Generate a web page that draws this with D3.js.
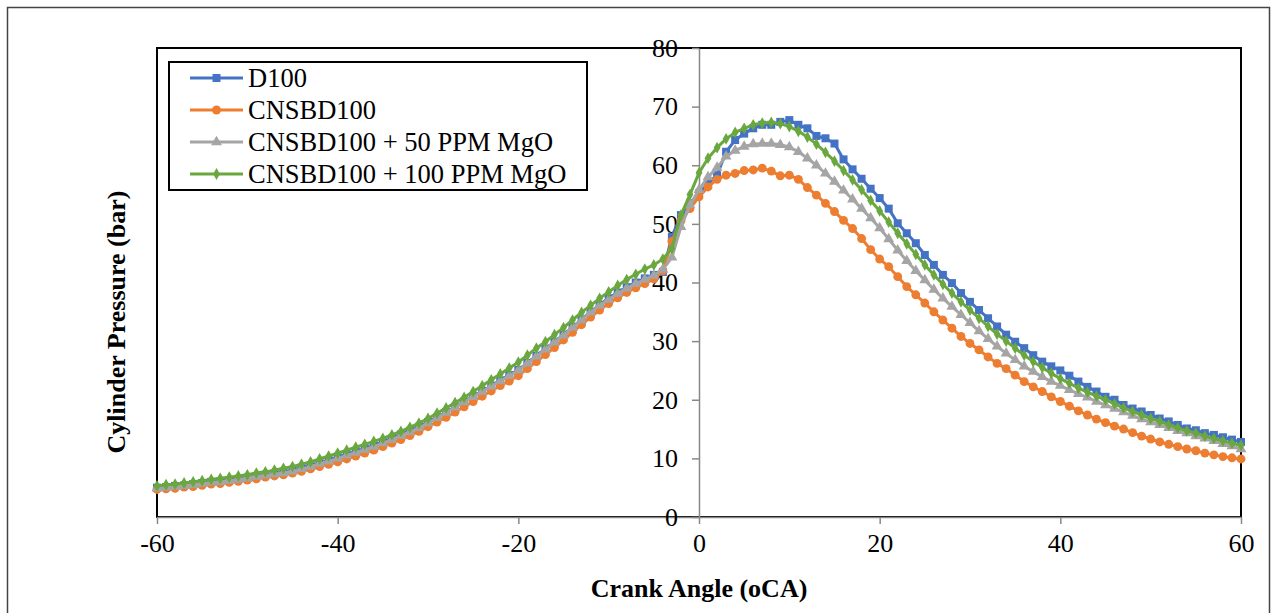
<!DOCTYPE html>
<html>
<head>
<meta charset="utf-8">
<script src="https://cdn.jsdelivr.net/npm/d3@7"></script>
<style>
  body { margin: 0; background: #fff; }
  svg text { font-family: "Liberation Serif", "Times New Roman", serif; fill: #000; }
</style>
</head>
<body>
<svg id="chart" width="1273" height="613"></svg>
<script>
// crank angle, one point per degree
const angles = d3.range(-60, 61);

const d100 = [
  5.0, 5.1, 5.3, 5.4, 5.6, 5.8, 6.0, 6.1, 6.3, 6.5,
  6.7, 7.0, 7.2, 7.4, 7.7, 8.0, 8.4, 8.8, 9.2, 9.7,
  10.2, 10.7, 11.2, 11.7, 12.2, 12.8, 13.4, 14.1, 14.7, 15.4,
  16.2, 17.0, 17.9, 18.8, 19.7, 20.6, 21.5, 22.4, 23.3, 24.2,
  25.1, 26.3, 27.5, 28.7, 29.9, 31.1, 32.4, 33.7, 35.0, 36.2,
  37.3, 38.3, 39.2, 40.0, 40.7, 41.3, 41.8, 47.8, 51.5, 53.5,
  55.2, 56.9, 58.3, 62.3, 64.3, 65.4, 66.3, 66.9, 66.9, 67.4,
  67.7, 66.9, 66.3, 65.0, 64.6, 63.7, 61.0, 59.3, 57.7, 56.0,
  54.4, 52.6, 50.1, 48.4, 46.7, 44.7, 43.0, 41.3, 39.9, 38.2,
  36.7, 35.3, 33.9, 32.5, 31.1, 29.9, 28.8, 27.6, 26.5, 25.7,
  25.0, 24.1, 23.1, 22.2, 21.4, 20.5, 20.0, 19.1, 18.5, 18.0,
  17.4, 16.8, 16.3, 15.7, 15.1, 14.8, 14.3, 14.0, 13.6, 13.2,
  12.8
];

const cnsbd100 = [
  4.7, 4.8, 4.9, 5.1, 5.2, 5.4, 5.6, 5.7, 5.9, 6.1,
  6.3, 6.5, 6.8, 7.0, 7.2, 7.5, 7.8, 8.2, 8.6, 9.0,
  9.4, 9.9, 10.4, 10.9, 11.4, 12.0, 12.6, 13.2, 13.9, 14.6,
  15.4, 16.2, 17.0, 17.9, 18.8, 19.7, 20.6, 21.5, 22.4, 23.2,
  24.1, 25.3, 26.5, 27.7, 28.9, 30.2, 31.5, 32.8, 34.1, 35.3,
  36.4, 37.4, 38.3, 39.1, 39.8, 40.6, 42.0, 47.0, 50.5, 52.6,
  54.6, 56.3, 57.6, 58.3, 58.6, 59.1, 59.2, 59.5, 59.0, 58.2,
  58.3, 57.6, 56.2, 54.9, 53.5, 52.1, 50.6, 49.2, 47.5, 45.6,
  44.0, 42.7, 41.0, 39.3, 37.9, 36.5, 35.0, 33.6, 32.2, 30.8,
  29.6, 28.5, 27.3, 26.2, 25.3, 24.2, 23.1, 22.2, 21.4, 20.5,
  19.7, 18.9, 18.1, 17.4, 16.7, 16.1, 15.5, 15.0, 14.4, 13.8,
  13.3, 12.8, 12.4, 12.0, 11.6, 11.3, 10.9, 10.6, 10.3, 10.1,
  9.9
];

const mgo50 = [
  4.9, 5.0, 5.2, 5.3, 5.5, 5.7, 5.9, 6.0, 6.2, 6.4,
  6.6, 6.9, 7.1, 7.3, 7.5, 7.8, 8.2, 8.6, 9.1, 9.5,
  10.0, 10.5, 11.0, 11.5, 12.0, 12.6, 13.2, 13.9, 14.5, 15.2,
  16.0, 16.9, 17.8, 18.7, 19.6, 20.5, 21.4, 22.3, 23.2, 24.1,
  25.0, 26.2, 27.4, 28.6, 29.8, 31.0, 32.3, 33.6, 34.9, 36.1,
  37.1, 38.1, 39.0, 39.8, 40.5, 41.2, 42.2, 44.3, 49.5, 53.2,
  55.8, 58.0, 59.6, 61.5, 62.5, 63.2, 63.6, 63.7, 63.7, 63.5,
  63.1, 62.3, 61.2, 60.0, 58.6, 57.2, 55.7, 54.2, 52.6, 51.0,
  49.3, 47.4, 45.5, 43.7, 42.0, 40.4, 38.8, 37.3, 35.9, 34.5,
  33.1, 31.7, 30.4, 29.1, 27.9, 26.8, 25.7, 24.8, 23.9, 23.1,
  22.4, 21.7, 21.0, 20.4, 19.7, 19.1, 18.5, 17.9, 17.3, 16.7,
  16.2, 15.7, 15.2, 14.7, 14.3, 13.8, 13.4, 13.0, 12.5, 12.1,
  11.6
];

const mgo100 = [
  5.3, 5.5, 5.6, 5.8, 6.0, 6.2, 6.4, 6.6, 6.8, 7.0,
  7.2, 7.5, 7.7, 8.0, 8.3, 8.6, 9.0, 9.4, 9.9, 10.4,
  10.9, 11.4, 11.9, 12.4, 12.9, 13.4, 14.0, 14.6, 15.3, 16.0,
  16.8, 17.7, 18.6, 19.5, 20.4, 21.4, 22.4, 23.4, 24.4, 25.4,
  26.4, 27.6, 28.8, 29.9, 31.1, 32.3, 33.6, 34.9, 36.1, 37.3,
  38.4, 39.5, 40.5, 41.4, 42.3, 43.0, 44.0, 45.8, 51.5, 55.0,
  58.7, 61.2, 63.0, 64.5, 65.6, 66.3, 66.9, 67.2, 67.3, 67.1,
  66.6, 65.8, 64.8, 63.6, 62.2, 60.7, 59.1, 57.5, 55.8, 54.0,
  52.2, 50.3, 48.4, 46.6, 44.8, 43.0, 41.3, 39.7, 38.2, 36.7,
  35.3, 33.9, 32.5, 31.2, 30.0, 28.8, 27.6, 26.5, 25.5, 24.5,
  23.6, 22.8, 22.0, 21.3, 20.6, 20.0, 19.3, 18.6, 18.0, 17.4,
  16.8, 16.3, 15.7, 15.2, 14.7, 14.3, 13.8, 13.4, 13.0, 12.6,
  12.2
];

const seriesNames = ["D100", "CNSBD100", "CNSBD100 + 50 PPM MgO", "CNSBD100 + 100 PPM MgO"];
const xTicks = [-60, -40, -20, 0, 20, 40, 60];
const yTicks = [0, 10, 20, 30, 40, 50, 60, 70, 80];

const series = [
  { name: seriesNames[0], values: d100, color: "#4472C4", symbol: d3.symbolSquare, size: 64 },
  { name: seriesNames[1], values: cnsbd100, color: "#ED7D31", symbol: d3.symbolCircle, size: 62 },
  { name: seriesNames[2], values: mgo50, color: "#A5A5A5", symbol: d3.symbolTriangle, size: 52 },
  { name: seriesNames[3], values: mgo100, color: "#6AA83F", symbol: d3.symbolDiamond, size: 40 }
];

const svg = d3.select("#chart");
const plot = { left: 157, top: 48, right: 1241, bottom: 517 };

const x = d3.scaleLinear().domain([-60, 60]).range([plot.left, plot.right]);
const y = d3.scaleLinear().domain([0, 80]).range([plot.bottom, plot.top]);

// outer chart border
svg.append("rect")
  .attr("x", 7.5).attr("y", 7.5)
  .attr("width", 1262).attr("height", 620)
  .attr("fill", "none").attr("stroke", "#444").attr("stroke-width", 1.5);

// plot area border
svg.append("rect")
  .attr("x", plot.left).attr("y", plot.top)
  .attr("width", plot.right - plot.left).attr("height", plot.bottom - plot.top)
  .attr("fill", "none").attr("stroke", "#000").attr("stroke-width", 2);

// x axis along the bottom (plain hyphen minus like the original)
let xAxis = svg.append("g")
  .attr("transform", "translate(0," + plot.bottom + ")")
  .call(d3.axisBottom(x).tickValues(xTicks).tickFormat(d => String(d))
    .tickSize(7).tickSizeOuter(0).tickPadding(10));
xAxis.select(".domain").attr("stroke", "#888").attr("stroke-width", 1.5);
xAxis.selectAll(".tick line").attr("stroke", "#888").attr("stroke-width", 1.5);
xAxis.selectAll("text").attr("font-size", 26).attr("font-family", "Liberation Serif").attr("fill", "#000");

// y axis crosses at angle 0
let yAxis = svg.append("g")
  .attr("transform", "translate(" + x(0) + ",0)")
  .call(d3.axisLeft(y).tickValues(yTicks).tickFormat(d => String(d))
    .tickSize(7).tickSizeOuter(0).tickPadding(14));
yAxis.select(".domain").attr("stroke", "#888").attr("stroke-width", 1.5);
yAxis.selectAll(".tick line").attr("stroke", "#888").attr("stroke-width", 1.5);
yAxis.selectAll("text").attr("font-size", 26).attr("font-family", "Liberation Serif").attr("fill", "#000");

// series: line then markers, in series order
let line = d3.line()
  .x((d, i) => x(angles[i]))
  .y(d => y(d));

series.forEach(function(s) {
  let g = svg.append("g");
  g.append("path")
    .datum(s.values)
    .attr("d", line)
    .attr("fill", "none")
    .attr("stroke", s.color)
    .attr("stroke-width", 3)
    .attr("stroke-linejoin", "round");
  g.selectAll("path.marker")
    .data(s.values)
    .join("path")
    .attr("class", "marker")
    .attr("transform", (d, i) => "translate(" + x(angles[i]) + "," + y(d) + ")")
    .attr("d", d3.symbol().type(s.symbol).size(s.size))
    .attr("fill", s.color);
});

// axis titles
svg.append("text")
  .attr("x", x(0)).attr("y", 597)
  .attr("text-anchor", "middle")
  .attr("font-size", 26).attr("font-weight", "bold")
  .text("Crank Angle (oCA)");

svg.append("text")
  .attr("transform", "translate(125," + 322 + ") rotate(-90)")
  .attr("text-anchor", "middle")
  .attr("font-size", 26).attr("font-weight", "bold")
  .text("Cylinder Pressure (bar)");

// legend
let legend = svg.append("g");
legend.append("rect")
  .attr("x", 169).attr("y", 62)
  .attr("width", 418).attr("height", 128)
  .attr("fill", "#fff").attr("stroke", "#000").attr("stroke-width", 2);

series.forEach(function(s, i) {
  let cy = 78 + i * 32;
  legend.append("line")
    .attr("x1", 190).attr("x2", 243)
    .attr("y1", cy).attr("y2", cy)
    .attr("stroke", s.color).attr("stroke-width", 3);
  legend.append("path")
    .attr("transform", "translate(216.5," + cy + ")")
    .attr("d", d3.symbol().type(s.symbol).size(s.size))
    .attr("fill", s.color);
  legend.append("text")
    .attr("x", 248).attr("y", cy + 9)
    .attr("font-size", 26.5)
    .text(s.name);
});
</script>
</body>
</html>
